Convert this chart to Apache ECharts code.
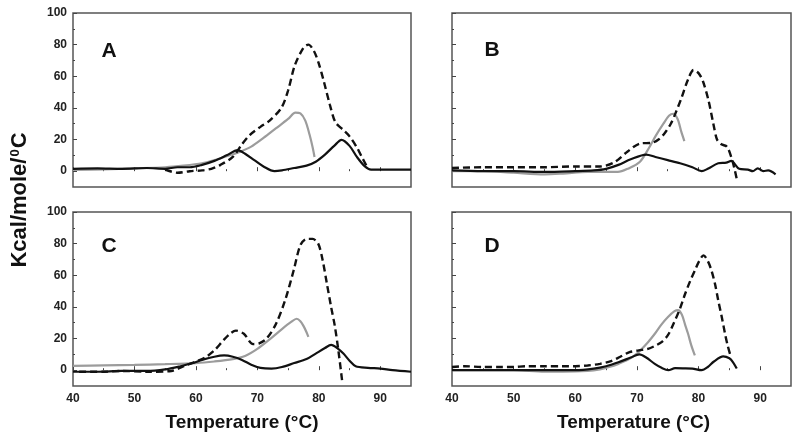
<!DOCTYPE html>
<html>
<head>
<meta charset="utf-8">
<script src="https://cdn.jsdelivr.net/npm/echarts@6/dist/echarts.min.js"></script>
<style>html,body{margin:0;padding:0;background:#fff}#c{width:800px;height:446px}</style>
</head>
<body>
<div id="c"></div>
<script>
// ---- data: [temperature °C, Kcal/mole/°C] ----
const xTicks = [40, 50, 60, 70, 80, 90];
const xMinorTicks = [45, 55, 65, 75, 85];
const yTicks = [0, 20, 40, 60, 80, 100];
const yMinorTicks = [10, 30, 50, 70, 90];
const panelLetters = ['A', 'B', 'C', 'D'];

const aSolid = [[40,1.5],[44,1.8],[48,1.5],[52,2],[55,1.5],[57,2.5],[59,2.5],[61,4],[63,6.5],[65,10],[66.8,13.3],[68,11],[69.5,7],[71,3],[72.8,0],[74,0.5],[76,2],[78,3.5],[79.5,6],[81,10.5],[82.5,16],[83.7,19.8],[85,16],[86.2,9],[87.5,3],[88.5,1],[91,1],[95,1]];
const aGray  = [[40,0.8],[45,1.2],[50,1.8],[55,2.5],[58,3.5],[61,5],[63,7],[65,9.5],[67,12],[69,15.5],[71,21],[73,27],[75,33],[76.2,37],[77,36.5],[77.8,32],[78.5,23],[79,15],[79.3,9]];
const aDash  = [[55,1],[57,-1],[59,0],[61,0.5],[62.5,1.5],[64,4],[66,9],[67.5,17],[68.8,23],[70.5,28],[72,32],[73.9,40],[75,51],[76.1,67],[77.5,78],[78.3,80],[79.2,76],[80,68],[80.8,57],[81.8,42],[82.7,31],[84,26],[85,22],[86.2,15],[87,9],[87.8,3]];

const bSolid = [[40,0.5],[45,0],[50,0],[55,-0.5],[60,0],[63,0.5],[65,1.5],[67,4],[69,7.5],[71.5,10.5],[73,9],[75,7],[77,5],[79,2.5],[80.5,0],[81.5,1.5],[83.2,5],[84.5,5.4],[85.3,6.5],[86.6,1.5],[88,1],[88.8,0],[89.6,1.8],[90.5,0],[91.3,0.5],[92.5,-2]];
const bGray  = [[40,0],[45,0],[50,-1],[55,-2],[58,-1.5],[62,-0.5],[66.9,-0.5],[68.5,1.5],[70.5,6],[72,15],[73,22],[74.3,30],[75.2,35],[75.9,36.3],[76.6,33],[77.2,25],[77.7,19]];
const bDash  = [[40,2],[45,2.5],[50,2.5],[55,2.5],[60,3],[64,3],[66.3,5.5],[68.5,12.5],[70.5,17.5],[72.5,18],[73.5,20],[74.5,24],[75.5,30],[76.3,37],[77.2,46],[78.3,58],[79.2,64],[80,62],[80.7,57],[81.6,45],[82.4,30],[83,20],[83.7,17],[84.6,15.5],[85.3,9],[85.8,2],[86.2,-5]];

const cSolid = [[40,-1],[44,-1],[48,-0.5],[52,-0.5],[55,0.5],[57.5,2.5],[59.5,4.5],[61,6.5],[63,8.5],[64.6,9.3],[66,8.5],[67.5,6.5],[69,3.5],[70.5,1.5],[72.3,1],[74,2],[76,4.5],[78,7],[79.5,10.5],[81,14],[82,16],[83,14],[84,10.5],[85,6],[86,2.5],[88,1.5],[90,1],[92,0],[95,-1]];
const cGray  = [[40,2.7],[45,3],[50,3.3],[55,3.8],[60,4.5],[63,5.5],[66,7],[68,9],[70,13.5],[72,19.5],[74,26],[75.5,30.5],[76.4,32.5],[77,31],[77.5,28],[78,24],[78.3,21]];
const cDash  = [[41,-1],[45,-1],[48,-0.5],[52,-1],[56,-0.5],[58,2.5],[60,5.5],[61.5,8],[63,12.5],[64.5,19],[65.7,23.5],[66.5,25],[67.8,23],[69.3,16.5],[70.3,17],[71.5,20],[73,29],[74.5,44],[75.9,63],[77,79],[78,83],[79,83],[79.9,80],[80.6,70],[81.3,55],[82,40],[82.6,28],[83.2,12],[83.8,-7]];

const dSolid = [[40,0],[45,0],[50,0],[55,0],[60,0],[63,1],[65,2.5],[67,5],[69,8],[70.4,10],[71.5,8],[72.9,4],[74,1.5],[75.1,0],[76.2,1.3],[77.5,1.2],[79,1],[80.5,0],[81.5,2],[82.5,5.5],[84,8.7],[85,7.5],[85.6,5],[86.2,1]];
const dGray  = [[40,0],[45,0],[50,0],[55,-1],[58,-1],[62,-0.5],[64,0.5],[65.5,2],[67,4],[68.5,6.5],[70,10.5],[71.8,17.7],[73,23.5],[74,29],[75,33.5],[76.1,37.3],[76.7,38],[77.3,35],[77.8,29],[78.3,23],[78.8,16],[79.4,9.3]];
const dDash  = [[40,2],[42,2.5],[45,2],[48,2],[50,2],[52,2.5],[55,2.5],[58,2.5],[60,2.5],[62,3],[64,4],[65.8,5.7],[67.3,8.5],[68.8,11.4],[70.3,12.5],[71.8,13.5],[73,15.5],[74,17.7],[75,22],[75.9,29],[77,39],[77.8,48],[78.6,56],[79.4,63],[80.1,69],[80.8,72.6],[81.5,69],[82.1,63],[82.7,54],[83.2,44],[83.8,33],[84.3,23],[84.7,16],[85.1,10.3]];

const xTitle = 'Temperature (°C)';

// ---- layout ----
const FONT = '"Liberation Sans", Arial, sans-serif';
const panels = [
  {grid:{left:73, top:13, width:338, height:174}, xl:false, yl:true,  data:[aGray,aDash,aSolid], lx:109, ly:51},
  {grid:{left:452,top:13, width:339, height:174}, xl:false, yl:false, data:[bGray,bDash,bSolid], lx:492, ly:50},
  {grid:{left:73, top:212,width:338, height:174}, xl:true,  yl:true,  data:[cGray,cDash,cSolid], lx:109, ly:246, pad:0},
  {grid:{left:452,top:212,width:339, height:174}, xl:true,  yl:false, data:[dGray,dDash,dSolid], lx:492, ly:246, pad:24}
];

const grids=[], xAxes=[], yAxes=[], series=[], graphic=[];
const tickColor = '#444';
panels.forEach((p,i)=>{
  grids.push(Object.assign({show:true, borderColor:'#555', borderWidth:1.5, backgroundColor:'transparent'}, p.grid));
  xAxes.push({
    type:'value', gridIndex:i, position:'bottom', min:40, max:95, interval:10,
    axisLine:{show:false}, splitLine:{show:false},
    axisTick:{show:true, inside:true, length:4, customValues:xTicks, lineStyle:{color:tickColor, width:1}},
    axisLabel:{show:p.xl, customValues:xTicks, margin:7, fontSize:12, fontWeight:'bold', color:'#222', fontFamily:FONT,
      formatter:v=> (v===95 ? '' : String(v))},
    name: p.xl ? xTitle : '', nameLocation:'middle', nameGap:27,
    nameTextStyle:{fontSize:19, fontWeight:'bold', color:'#111', fontFamily:FONT, padding:[0,0,0,p.pad||0]}
  });
  xAxes.push({
    type:'value', gridIndex:i, position:'bottom', min:40, max:95, interval:5,
    axisLine:{show:false}, splitLine:{show:false}, axisLabel:{show:false},
    axisTick:{show:true, inside:true, length:2, customValues:xMinorTicks, lineStyle:{color:tickColor, width:1}}
  });
  yAxes.push({
    type:'value', gridIndex:i, position:'left', min:-10, max:100,
    axisLine:{show:false}, splitLine:{show:false},
    axisTick:{show:true, inside:true, length:4, customValues:yTicks, lineStyle:{color:tickColor, width:1}},
    axisLabel:{show:p.yl, customValues:yTicks, margin:6, fontSize:12, fontWeight:'bold', color:'#222', fontFamily:FONT}
  });
  yAxes.push({
    type:'value', gridIndex:i, position:'left', min:-10, max:100,
    axisLine:{show:false}, splitLine:{show:false}, axisLabel:{show:false},
    axisTick:{show:true, inside:true, length:2, customValues:yMinorTicks, lineStyle:{color:tickColor, width:1}}
  });
  const styles = [
    {color:'#9c9c9c', width:2.2, type:'solid'},
    {color:'#111', width:2.4, type:[7,4]},
    {color:'#111', width:2.2, type:'solid'}
  ];
  p.data.forEach((d,k)=>{
    series.push({type:'line', xAxisIndex:2*i, yAxisIndex:2*i, data:d, showSymbol:false, symbol:'none',
      smooth:0.3, lineStyle:styles[k], z:2+k, silent:true});
  });
  graphic.push({type:'text', x:p.lx, y:p.ly, style:{text:panelLetters[i], font:'bold 21px '+FONT, fill:'#111', align:'center', verticalAlign:'middle'}});
});

graphic.push({type:'text', x:20, y:200, rotation:Math.PI/2,
  style:{text:'Kcal/mole/{s|0}C', font:'bold 22px '+FONT, fill:'#111', align:'center', verticalAlign:'middle',
    rich:{s:{fontSize:13, fontWeight:'bold', fontFamily:FONT, verticalAlign:'top', fill:'#111', padding:[0,1,0,1]}}}});

const chart = echarts.init(document.getElementById('c'));
chart.setOption({animation:false, grid:grids, xAxis:xAxes, yAxis:yAxes, series:series, graphic:graphic});
</script>
</body>
</html>
